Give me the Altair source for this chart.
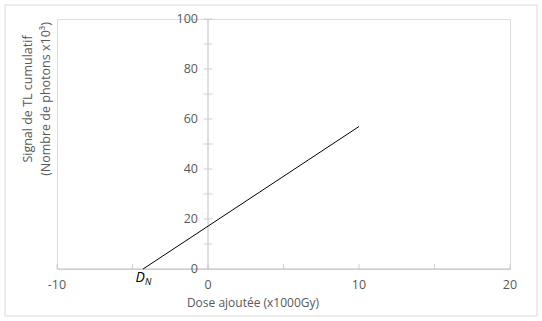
import altair as alt
import pandas as pd

# data
line_x = [-4.3, 10]
line_y = [0, 57]
y_ticks = [0, 20, 40, 60, 80, 100]
y_minor = [10, 20, 30, 40, 50, 60, 70, 80, 90, 100]
x_labels = [-10, 0, 10, 20]
x_label_text = ["-10", "0", "10", "20"]
x_ticks = [-10, -5, 0, 5, 10, 15, 20]
x_title = "Dose ajoutée (x1000Gy)"
y_title = ["Signal de TL cumulatif", "(Nombre de photons x10³)"]

FONT = "Open Sans"
GRAY = "#595959"
AX = "#bfbfbf"

xs = alt.Scale(domain=[-10, 20], nice=False, zero=False)
ys = alt.Scale(domain=[0, 100], nice=False)

line_df = pd.DataFrame({"x": line_x, "y": line_y})
axis_x_df = pd.DataFrame({"x": [-10], "x2": [20], "y": [0]})
axis_y_df = pd.DataFrame({"x": [0], "y": [0], "y2": [100]})
yt_df = pd.DataFrame({"v": y_ticks, "x": [0] * len(y_ticks)})
ym_df = pd.DataFrame({"v": y_minor, "x": [0] * len(y_minor)})
xl_df = pd.DataFrame({"v": x_labels, "t": x_label_text, "y": [0] * len(x_labels)})
xt_df = pd.DataFrame({"v": x_ticks, "y": [0] * len(x_ticks)})

X = lambda f: alt.X(f, type="quantitative", scale=xs, axis=None)
Y = lambda f: alt.Y(f, type="quantitative", scale=ys, axis=None)

border = alt.Chart(pd.DataFrame({"a": [0]})).mark_rect(
    fill=None, stroke="#d9d9d9", strokeWidth=1
).encode(x=alt.value(-52), x2=alt.value(480), y=alt.value(-14), y2=alt.value(297))

xaxis = alt.Chart(axis_x_df).mark_rule(color=AX, strokeWidth=1).encode(
    x=X("x"), x2="x2", y=Y("y"))
yaxis = alt.Chart(axis_y_df).mark_rule(color=AX, strokeWidth=1).encode(
    x=X("x"), y=Y("y"), y2="y2")

yminor = alt.Chart(ym_df).mark_tick(color=AX, orient="horizontal", size=9, thickness=1).encode(
    x=X("x"), y=Y("v"))
xtick = alt.Chart(xt_df).mark_tick(color=AX, orient="vertical", size=5, thickness=1, yOffset=-2.5).encode(
    x=X("v"), y=Y("y"))

ylab = alt.Chart(yt_df).mark_text(align="right", baseline="middle", dx=-10, font=FONT,
                                  fontSize=12.5, color=GRAY).encode(
    x=X("x"), y=Y("v"), text=alt.Text("v:Q"))
xlab = alt.Chart(xl_df).mark_text(align="center", baseline="middle", dy=16, font=FONT,
                                  fontSize=12.5, color=GRAY).encode(
    x=X("v"), y=Y("y"), text=alt.Text("t:N"))

line = alt.Chart(line_df).mark_line(color="black", strokeWidth=1).encode(x=X("x"), y=Y("y"))

dn_df = pd.DataFrame({"x": [line_x[0]], "y": [line_y[0]]})
d_lbl = alt.Chart(dn_df).mark_text(text="D", fontStyle="italic", font=FONT, fontSize=14,
                                   color="black", align="center", baseline="middle",
                                   dx=-3, dy=9).encode(x=X("x"), y=Y("y"))
n_lbl = alt.Chart(dn_df).mark_text(text="N", fontStyle="italic", font=FONT, fontSize=9,
                                   color="black", align="center", baseline="middle",
                                   dx=5, dy=13).encode(x=X("x"), y=Y("y"))

xt = alt.Chart(pd.DataFrame({"t": [x_title]})).mark_text(
    font=FONT, fontSize=12, color=GRAY, align="center", baseline="middle"
).encode(x=alt.value(196), y=alt.value(284), text="t:N")

yt = alt.Chart(pd.DataFrame({"t": [y_title[0]], "o": [0]})).mark_text(
    font=FONT, fontSize=12.5, color=GRAY, align="center", baseline="middle", angle=270
).encode(x=alt.value(-29), y=alt.value(80), text="t:N")
yt2 = alt.Chart(pd.DataFrame({"t": [y_title[1]]})).mark_text(
    font=FONT, fontSize=12.5, color=GRAY, align="center", baseline="middle", angle=270
).encode(x=alt.value(-11), y=alt.value(80), text="t:N")

chart = alt.layer(border, xaxis, yaxis, yminor, xtick, ylab, xlab, line, d_lbl, n_lbl, xt, yt, yt2).properties(
    width=453, height=250,
    autosize=alt.AutoSizeParams(type="none"),
    padding={"left": 57, "top": 19, "right": 32, "bottom": 52},
).configure_view(stroke=None).configure(background="white")

chart.save("out.html", embed_options={"renderer": "svg", "actions": False})
